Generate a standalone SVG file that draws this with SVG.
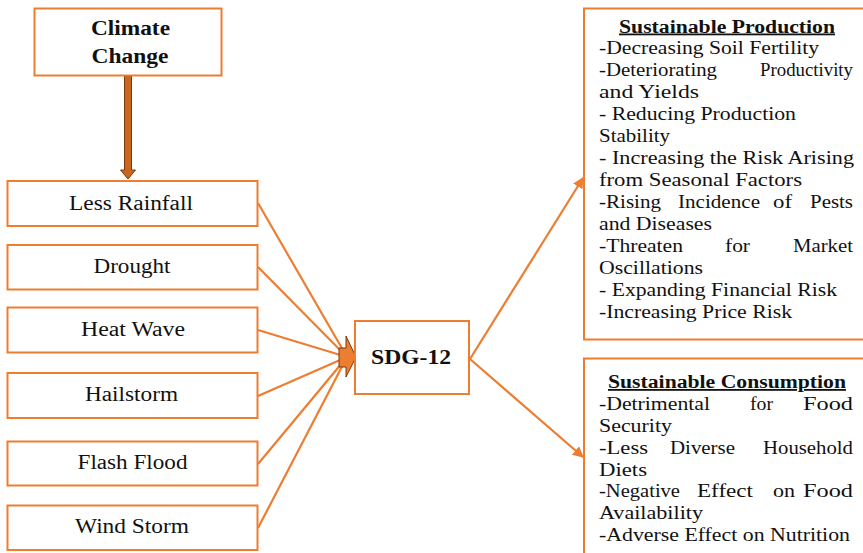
<svg xmlns="http://www.w3.org/2000/svg" width="863" height="553" viewBox="0 0 863 553">
<style>
.box{fill:#fff;stroke:#ED7D31;stroke-width:2}
.lbl{font-family:"Liberation Serif","Times New Roman",serif;font-size:20px;fill:#111;text-anchor:middle}
.b{font-weight:bold}
.t{font-family:"Liberation Serif","Times New Roman",serif;font-size:18px;fill:#111}
.h{font-weight:bold;text-anchor:middle;text-decoration:underline}
.con{stroke:#ED7D31;stroke-width:2.2;fill:none}
</style>
<defs>
<marker id="ah" viewBox="0 0 10 10" refX="9" refY="5" markerWidth="5" markerHeight="5" orient="auto" markerUnits="strokeWidth">
<path d="M0,0 L10,5 L0,10 z" fill="#ED7D31"/>
</marker>
</defs>
<rect width="863" height="553" fill="#fff"/>

<g id="connectors">
<path d="M124.5,76 V170 H120.5 L128,179 L135.5,170 H131.5 V76 z" fill="#C9661F" stroke="#7A3A0E" stroke-width="1"/>
<line class="con" x1="258" y1="203" x2="347" y2="357"/>
<line class="con" x1="258" y1="267" x2="347" y2="357"/>
<line class="con" x1="258" y1="330" x2="347" y2="357"/>
<line class="con" x1="258" y1="396" x2="347" y2="357"/>
<line class="con" x1="258" y1="464" x2="347" y2="357"/>
<line class="con" x1="258" y1="528" x2="347" y2="357"/>
<polygon points="339,348 346,348 346,336 356,357 346,377 346,367 339,367" fill="#ED7D31" stroke="#7A3A0E" stroke-width="1"/>
<line class="con" x1="470" y1="359" x2="583" y2="178" marker-end="url(#ah)"/>
<line class="con" x1="470" y1="359" x2="583" y2="457" marker-end="url(#ah)"/>
</g>

<g id="climate-change">
<rect class="box" x="34.5" y="8.5" width="187" height="67"/>
<text class="lbl b" x="130.5" y="35" textLength="79" lengthAdjust="spacingAndGlyphs">Climate</text>
<text class="lbl b" x="130" y="62.5" textLength="77" lengthAdjust="spacingAndGlyphs">Change</text>
</g>

<g id="less-rainfall">
<rect class="box" x="7.5" y="181" width="250" height="45"/>
<text class="lbl" x="131" y="209.5" textLength="124" lengthAdjust="spacingAndGlyphs">Less Rainfall</text>
</g>
<g id="drought">
<rect class="box" x="7.5" y="245" width="250" height="44.5"/>
<text class="lbl" x="132" y="273" textLength="77" lengthAdjust="spacingAndGlyphs">Drought</text>
</g>
<g id="heat-wave">
<rect class="box" x="7.5" y="307.5" width="250" height="45"/>
<text class="lbl" x="133" y="336" textLength="104" lengthAdjust="spacingAndGlyphs">Heat Wave</text>
</g>
<g id="hailstorm">
<rect class="box" x="7.5" y="373" width="250" height="45"/>
<text class="lbl" x="131.5" y="401" textLength="93" lengthAdjust="spacingAndGlyphs">Hailstorm</text>
</g>
<g id="flash-flood">
<rect class="box" x="7.5" y="441.5" width="250" height="44"/>
<text class="lbl" x="132.5" y="469" textLength="110" lengthAdjust="spacingAndGlyphs">Flash Flood</text>
</g>
<g id="wind-storm">
<rect class="box" x="7.5" y="505.5" width="250" height="44.5"/>
<text class="lbl" x="132" y="533" textLength="114" lengthAdjust="spacingAndGlyphs">Wind Storm</text>
</g>

<g id="sdg-12">
<rect class="box" x="355" y="321" width="114" height="73"/>
<text class="lbl b" x="411" y="363.5" textLength="80" lengthAdjust="spacingAndGlyphs">SDG-12</text>
</g>

<g id="sustainable-production">
<rect class="box" x="584" y="8.5" width="290" height="331"/>
<text class="t h" x="727" y="32.5" textLength="216" lengthAdjust="spacingAndGlyphs">Sustainable Production</text>
<text class="t" x="599" y="54" textLength="220" lengthAdjust="spacingAndGlyphs">-Decreasing Soil Fertility</text>
<text class="t" x="599" y="76" textLength="118" lengthAdjust="spacingAndGlyphs">-Deteriorating</text>
<text class="t" x="760" y="76" textLength="93" lengthAdjust="spacingAndGlyphs">Productivity</text>
<text class="t" x="599" y="98" textLength="100" lengthAdjust="spacingAndGlyphs">and Yields</text>
<text class="t" x="599" y="120" textLength="197" lengthAdjust="spacingAndGlyphs">- Reducing Production</text>
<text class="t" x="599" y="142" textLength="71" lengthAdjust="spacingAndGlyphs">Stability</text>
<text class="t" x="599" y="164" textLength="255" lengthAdjust="spacingAndGlyphs">- Increasing the Risk Arising</text>
<text class="t" x="599" y="186" textLength="203" lengthAdjust="spacingAndGlyphs">from Seasonal Factors</text>
<text class="t" x="599" y="208" textLength="62" lengthAdjust="spacingAndGlyphs">-Rising</text>
<text class="t" x="678" y="208" textLength="82" lengthAdjust="spacingAndGlyphs">Incidence</text>
<text class="t" x="773" y="208" textLength="19" lengthAdjust="spacingAndGlyphs">of</text>
<text class="t" x="810" y="208" textLength="43" lengthAdjust="spacingAndGlyphs">Pests</text>
<text class="t" x="599" y="230" textLength="113" lengthAdjust="spacingAndGlyphs">and Diseases</text>
<text class="t" x="599" y="252" textLength="84" lengthAdjust="spacingAndGlyphs">-Threaten</text>
<text class="t" x="725" y="252" textLength="25" lengthAdjust="spacingAndGlyphs">for</text>
<text class="t" x="793" y="252" textLength="60" lengthAdjust="spacingAndGlyphs">Market</text>
<text class="t" x="599" y="274" textLength="104" lengthAdjust="spacingAndGlyphs">Oscillations</text>
<text class="t" x="599" y="296" textLength="238" lengthAdjust="spacingAndGlyphs">- Expanding Financial Risk</text>
<text class="t" x="599" y="318" textLength="193" lengthAdjust="spacingAndGlyphs">-Increasing Price Risk</text>
</g>

<g id="sustainable-consumption">
<rect class="box" x="584" y="358.5" width="290" height="210"/>
<text class="t h" x="727" y="388" textLength="238" lengthAdjust="spacingAndGlyphs">Sustainable Consumption</text>
<text class="t" x="599" y="410" textLength="111" lengthAdjust="spacingAndGlyphs">-Detrimental</text>
<text class="t" x="750" y="410" textLength="23" lengthAdjust="spacingAndGlyphs">for</text>
<text class="t" x="803" y="410" textLength="50" lengthAdjust="spacingAndGlyphs">Food</text>
<text class="t" x="599" y="432" textLength="73" lengthAdjust="spacingAndGlyphs">Security</text>
<text class="t" x="599" y="454" textLength="49" lengthAdjust="spacingAndGlyphs">-Less</text>
<text class="t" x="670" y="454" textLength="65" lengthAdjust="spacingAndGlyphs">Diverse</text>
<text class="t" x="763" y="454" textLength="90" lengthAdjust="spacingAndGlyphs">Household</text>
<text class="t" x="599" y="475.5" textLength="48" lengthAdjust="spacingAndGlyphs">Diets</text>
<text class="t" x="599" y="497" textLength="81" lengthAdjust="spacingAndGlyphs">-Negative</text>
<text class="t" x="697" y="497" textLength="56" lengthAdjust="spacingAndGlyphs">Effect</text>
<text class="t" x="773" y="497" textLength="22" lengthAdjust="spacingAndGlyphs">on</text>
<text class="t" x="803" y="497" textLength="50" lengthAdjust="spacingAndGlyphs">Food</text>
<text class="t" x="599" y="519" textLength="104" lengthAdjust="spacingAndGlyphs">Availability</text>
<text class="t" x="599" y="541" textLength="251" lengthAdjust="spacingAndGlyphs">-Adverse Effect on Nutrition</text>
</g>
</svg>
